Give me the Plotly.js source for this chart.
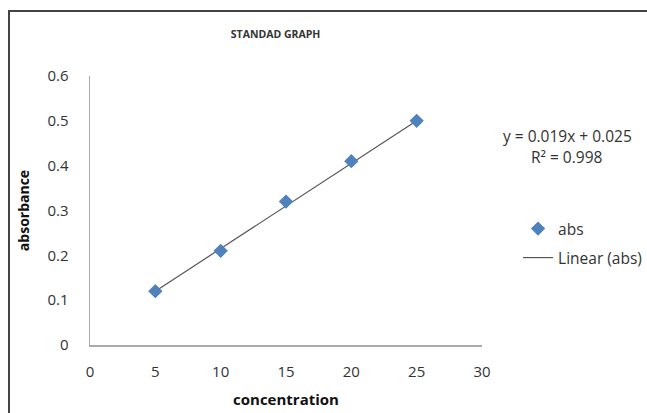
<!DOCTYPE html>
<html>
<head>
<meta charset="utf-8">
<script src="https://cdn.plot.ly/plotly-3.0.1.min.js"></script>
<style>
html,body{margin:0;padding:0;background:#fff;}
#wrap{position:relative;width:647px;height:413px;overflow:hidden;}
#chart{position:absolute;left:0;top:0;width:647px;height:413px;}
#frame{position:absolute;left:8px;top:10px;width:700px;height:500px;border-left:2px solid #444;border-top:2px solid #444;pointer-events:none;}
</style>
</head>
<body>
<div id="wrap"><div id="chart"></div><div id="frame"></div></div>
<script>
const concentration = [5, 10, 15, 20, 25];
const absorbance = [0.12, 0.21, 0.32, 0.41, 0.50];
const trendX = [5, 25];
const trendY = [0.12, 0.50];
const equationText = "y = 0.019x + 0.025";
const r2Text = "R² = 0.998";
const xTicks = [0, 5, 10, 15, 20, 25, 30];
const yTicks = [0, 0.1, 0.2, 0.3, 0.4, 0.5, 0.6];

const FONT = "Open Sans, Lato, sans-serif";

const traces = [
  {
    x: trendX, y: trendY, type: 'scatter', mode: 'lines',
    name: 'Linear (abs)', legend: 'legend2',
    line: {color: '#555555', width: 1.2}
  },
  {
    x: concentration, y: absorbance, type: 'scatter', mode: 'markers',
    name: 'abs', legend: 'legend',
    marker: {symbol: 'diamond', size: 11, color: '#4F81BD', line: {width: 0}}
  }
];

const layout = {
  width: 647, height: 413,
  margin: {l: 90, r: 165, t: 76, b: 68, autoexpand: false},
  paper_bgcolor: '#fff', plot_bgcolor: '#fff',
  font: {family: FONT, size: 15, color: '#333'},
  showlegend: true,
  title: {text: 'STANDAD GRAPH', font: {family: FONT, size: 10.5, color: '#333', weight: 'bold'}, x: 0.426, xanchor: 'center', y: 0.918, yanchor: 'middle'},
  xaxis: {
    range: [0, 30], tickvals: xTicks, ticktext: xTicks.map(String),
    showgrid: false, zeroline: false, showline: true, linecolor: '#aaaaaa', linewidth: 1.5,
    ticks: '', ticklabelstandoff: 12,
    tickfont: {family: FONT, size: 15, color: '#333'},
    title: {text: 'concentration', font: {family: FONT, size: 15, color: '#111', weight: 'bold'}, standoff: 15}
  },
  yaxis: {
    range: [0, 0.6], tickvals: yTicks, ticktext: yTicks.map(v => String(v)),
    showgrid: false, zeroline: false, showline: true, linecolor: '#aaaaaa', linewidth: 1.5,
    ticks: '', ticklabelstandoff: 17,
    tickfont: {family: FONT, size: 15, color: '#333'},
    title: {text: 'absorbance', font: {family: FONT, size: 14, color: '#111', weight: 'bold'}, standoff: 14}
  },
  legend: {x: 1.092, xanchor: 'left', y: (345 - 229) / 269, yanchor: 'middle', bgcolor: 'rgba(0,0,0,0)', font: {family: FONT, size: 15.5, color: '#333'}},
  legend2: {x: 1.092, xanchor: 'left', y: (345 - 258) / 269, yanchor: 'middle', bgcolor: 'rgba(0,0,0,0)', font: {family: FONT, size: 15.5, color: '#333'}},
  annotations: [
    {xref: 'paper', yref: 'paper', x: (567 - 90) / 392, y: (345 - 136) / 269, text: equationText, showarrow: false, xanchor: 'center', yanchor: 'middle', font: {family: FONT, size: 15.5, color: '#333'}},
    {xref: 'paper', yref: 'paper', x: (567 - 90) / 392, y: (345 - 157) / 269, text: r2Text, showarrow: false, xanchor: 'center', yanchor: 'middle', font: {family: FONT, size: 15.5, color: '#333'}}
  ]
};

Plotly.newPlot('chart', traces, layout, {displayModeBar: false, staticPlot: true});
</script>
</body>
</html>
